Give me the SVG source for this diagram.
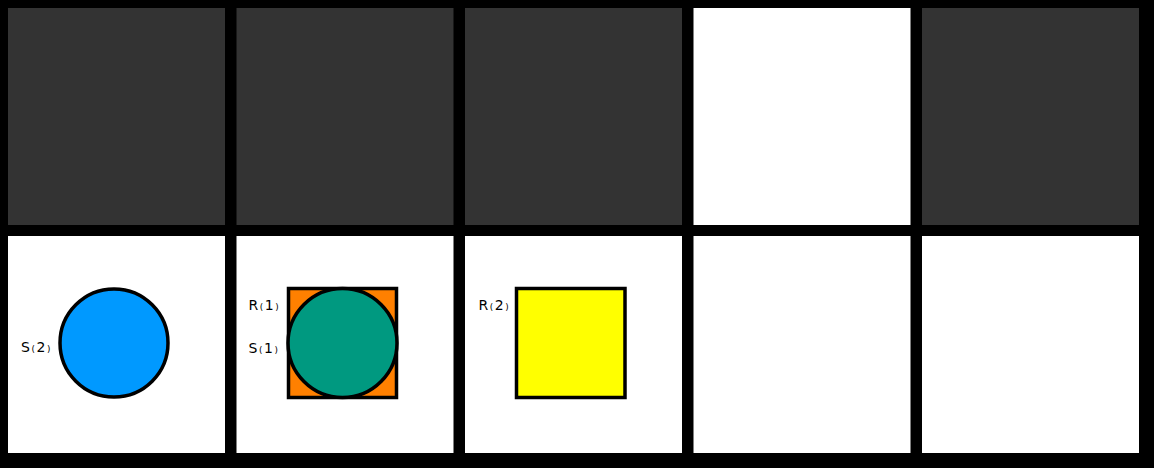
<svg xmlns="http://www.w3.org/2000/svg" width="1154" height="468" viewBox="0 0 1154 468">
<style>
.dark{fill:#333333}
.light{fill:#ffffff}
.shape{stroke:#000000;stroke-width:3.5}
.lbl{font-family:"DejaVu Sans","Liberation Sans",sans-serif;font-size:14px;fill:#000000;letter-spacing:1.6px}
</style>
<rect x="0" y="0" width="1154" height="468" fill="#000000"/>
<g id="top-row">
<rect id="t1" class="dark" x="8" y="8" width="217" height="217"/>
<rect id="t2" class="dark" x="236.5" y="8" width="217" height="217"/>
<rect id="t3" class="dark" x="465" y="8" width="217" height="217"/>
<rect id="t4" class="light" x="693.5" y="8" width="217" height="217"/>
<rect id="t5" class="dark" x="922" y="8" width="217" height="217"/>
</g>
<g id="bottom-row">
<rect id="b1" class="light" x="8" y="236" width="217" height="217"/>
<rect id="b2" class="light" x="236.5" y="236" width="217" height="217"/>
<rect id="b3" class="light" x="465" y="236" width="217" height="217"/>
<rect id="b4" class="light" x="693.5" y="236" width="217" height="217"/>
<rect id="b5" class="light" x="922" y="236" width="217" height="217"/>
</g>
<g id="node-s2">
<circle class="shape" cx="114" cy="343" r="54" fill="#0099ff"/>
<text class="lbl" x="21" y="352">S₍2₎</text>
</g>
<g id="node-r1">
<rect class="shape" x="288.5" y="288.5" width="108" height="109" fill="#ff8000"/>
<text class="lbl" x="248.5" y="309.5">R₍1₎</text>
</g>
<g id="node-s1">
<circle class="shape" cx="342.5" cy="343" r="54.5" fill="#009980"/>
<text class="lbl" x="248.5" y="352.5">S₍1₎</text>
</g>
<g id="node-r2">
<rect class="shape" x="516.5" y="288.5" width="108.5" height="109" fill="#ffff00"/>
<text class="lbl" x="478.5" y="310">R₍2₎</text>
</g>
<g id="connectors"></g>
</svg>
